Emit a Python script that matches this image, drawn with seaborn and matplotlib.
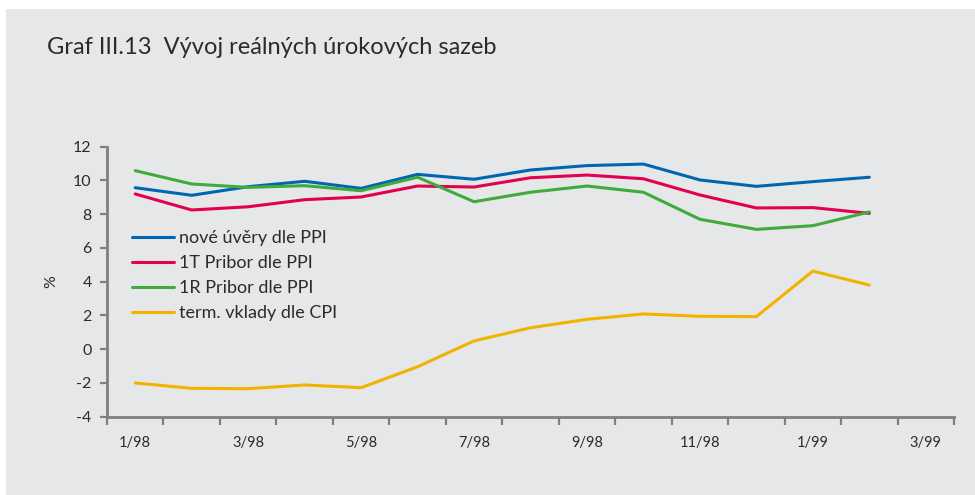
import numpy as np
import pandas as pd
import seaborn as sns
import matplotlib.pyplot as plt
from matplotlib.patches import Rectangle

# Months on the x axis (category 3/99 has no data yet)
months = ['1/98', '2/98', '3/98', '4/98', '5/98', '6/98', '7/98', '8/98',
          '9/98', '10/98', '11/98', '12/98', '1/99', '2/99', '3/99']

nove_uvery = [9.57, 9.12, 9.63, 9.95, 9.53, 10.36, 10.07, 10.62, 10.88, 10.97, 10.03, 9.65, 9.93, 10.19]
pribor_1t = [9.20, 8.25, 8.44, 8.86, 9.02, 9.67, 9.61, 10.16, 10.32, 10.10, 9.14, 8.37, 8.39, 8.05]
pribor_1r = [10.58, 9.79, 9.59, 9.69, 9.39, 10.19, 8.74, 9.30, 9.67, 9.30, 7.70, 7.10, 7.32, 8.13]
term_vklady = [-2.00, -2.32, -2.34, -2.12, -2.28, -1.04, 0.49, 1.27, 1.77, 2.09, 1.95, 1.93, 4.63, 3.80]

series_names = ['nové úvěry dle PPI', '1T Pribor dle PPI', '1R Pribor dle PPI', 'term. vklady dle CPI']
series_colors = ['#0066b3', '#e2004f', '#3fab3a', '#f0b400']

# Long format for seaborn
n = len(nove_uvery)
df = pd.DataFrame({
    'pos': list(range(n)) * 4,
    'value': nove_uvery + pribor_1t + pribor_1r + term_vklady,
    'series': sum([[s] * n for s in series_names], []),
})

bg = '#e6e7e9'
axis_col = '#7f7f7f'
text_col = '#2b2b2b'

sns.set_style('ticks')
plt.rcParams['font.family'] = ['Lato', 'DejaVu Sans']

fig = plt.figure(figsize=(9.75, 4.95), dpi=100, facecolor='white')
# grey panel, leaves thin white strip on top and left
fig.patches.append(Rectangle((6 / 975, 0), 1, 1 - 9 / 495, transform=fig.transFigure,
                             facecolor=bg, edgecolor='none', zorder=-1))

ax = fig.add_axes([107 / 975, 1 - 416.7 / 495, (954 - 107) / 975, (416.7 - 146.7) / 495])
ax.set_facecolor(bg)

sns.lineplot(data=df, x='pos', y='value', hue='series', hue_order=series_names,
             palette=series_colors, linewidth=2.2, ax=ax)

ax.set_xlim(-0.5, len(months) - 0.5)
ax.set_ylim(-4, 12)
ax.set_yticks(np.arange(-4, 13, 2))
ax.set_yticklabels([str(v) for v in range(-4, 13, 2)])

# labels on every other month, tick marks on category borders
ax.set_xticks(np.arange(0, len(months), 2))
ax.set_xticklabels(months[::2])
ax.set_xticks(np.arange(-0.5, len(months), 1), minor=True)
ax.tick_params(axis='x', which='major', length=0, pad=14, labelsize=10.5, labelcolor=text_col)
ax.tick_params(axis='x', which='minor', length=6, width=1.6, color=axis_col)
ax.tick_params(axis='y', length=5, width=1.6, color=axis_col, labelsize=11.5, labelcolor=text_col, pad=6)

for side in ['top', 'right']:
    ax.spines[side].set_visible(False)
for side in ['left', 'bottom']:
    ax.spines[side].set_color(axis_col)
    ax.spines[side].set_linewidth(2)

ax.set_xlabel('')
ax.set_ylabel('%', fontsize=11.5, color=text_col, labelpad=11)

leg = ax.legend(loc='upper left', bbox_to_anchor=(0.021, 0.717), frameon=False,
                fontsize=13, handlelength=2.3, handletextpad=0.28, labelspacing=0.5,
                borderaxespad=0)
for t in leg.get_texts():
    t.set_color(text_col)

fig.text(47 / 975, 1 - 48 / 495, 'Graf III.13  Vývoj reálných úrokových sazeb',
         fontsize=17, color=text_col, va='center', ha='left')

fig.savefig('out.png', dpi=100, facecolor='white')
